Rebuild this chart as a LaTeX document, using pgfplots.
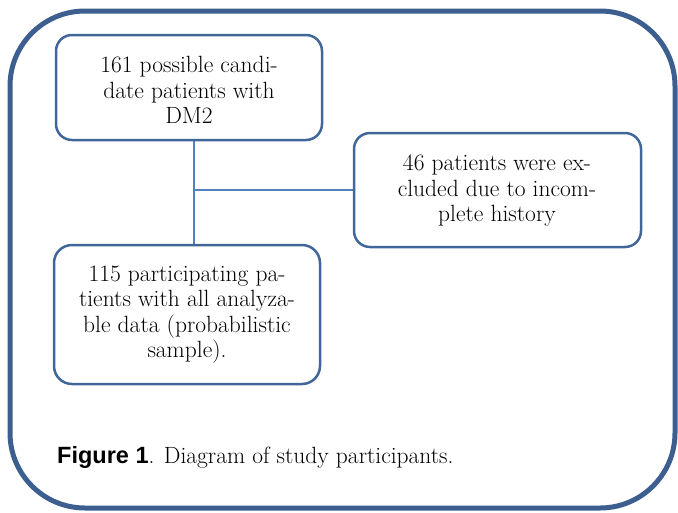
\documentclass[border=0pt]{standalone}
\usepackage{fontspec}
\usepackage{pgfplots}
\pgfplotsset{compat=1.18}
\newfontfamily\capfont{Liberation Sans}
\definecolor{outerblue}{HTML}{3C5F8F}
\definecolor{boxblue}{HTML}{41679A}
\definecolor{linkblue}{HTML}{4F81BD}
\begin{document}
\begin{tikzpicture}
\begin{axis}[width=678pt, height=512pt, scale only axis,
  xmin=0, xmax=678, ymin=0, ymax=512, y dir=reverse,
  hide axis, clip=false]
\draw[draw=none] (axis cs:0,0) rectangle (axis cs:678,512);
% connectors
\addplot[linkblue, line width=2pt] coordinates {(194,140) (194,245)};
\addplot[linkblue, line width=2pt] coordinates {(194,190) (354,190)};
% outer frame
\draw[outerblue, line width=5pt, rounded corners=75pt] (axis cs:10,11) rectangle (axis cs:675,508);
% boxes
\draw[boxblue, line width=2.5pt, fill=white, rounded corners=16pt] (axis cs:56,35) rectangle (axis cs:322,140);
\draw[boxblue, line width=2.5pt, fill=white, rounded corners=16pt] (axis cs:354,133) rectangle (axis cs:641,247);
\draw[boxblue, line width=2.5pt, fill=white, rounded corners=18pt] (axis cs:54,245) rectangle (axis cs:320,384);
% texts
\node[align=center, font=\fontsize{23.5}{25.5}\selectfont] at (axis cs:189,90) {161 possible candi-\\date patients with\\DM2};
\node[align=center, font=\fontsize{23.5}{25.5}\selectfont] at (axis cs:497,191) {46 patients were ex-\\cluded due to incom-\\plete history};
\node[align=center, font=\fontsize{23.5}{25.5}\selectfont] at (axis cs:187,314.5) {115 participating pa-\\tients with all analyza-\\ble data (probabilistic\\sample).};
\node[anchor=base west, inner sep=0pt, font=\fontsize{23.5}{25.5}\selectfont] at (axis cs:57,463) {{\capfont\bfseries Figure 1}. Diagram of study participants.};
\end{axis}
\end{tikzpicture}
\end{document}
